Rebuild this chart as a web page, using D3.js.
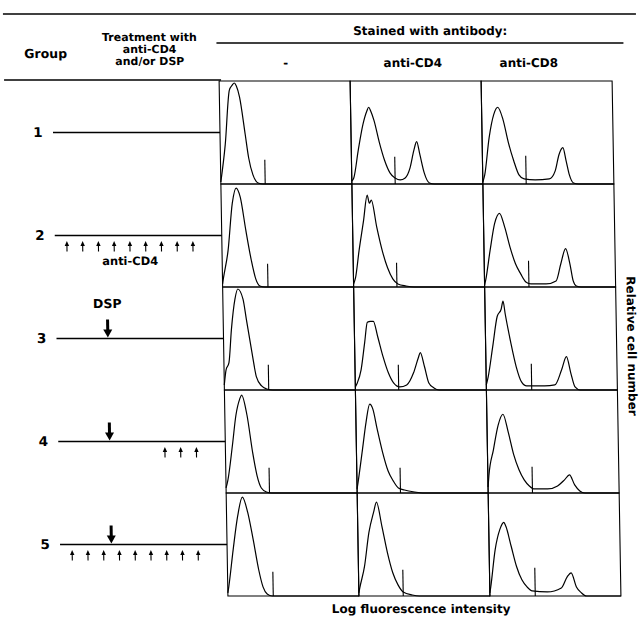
<!DOCTYPE html>
<html>
<head>
<meta charset="utf-8">
<script src="https://cdn.jsdelivr.net/npm/d3@7"></script>
<style>
  html, body { margin: 0; padding: 0; background: #fff; }
  svg { display: block; }
  text { font-family: "DejaVu Sans", "Liberation Sans", Arial, sans-serif; font-weight: bold; fill: #000; }
</style>
</head>
<body>
<svg id="chart" width="642" height="620"></svg>
<script>
// Groups (rows) and staining antibodies (columns)
const groups = ["1", "2", "3", "4", "5"];
const stains = ["-", "anti-CD4", "anti-CD8"];

// Treatment schedule on the timeline: anti-CD4 injections (small arrows) and DSP (large arrow)
const antiCD4Days = [[], [1, 2, 3, 4, 5, 6, 7, 8, 9], [], [7, 8, 9], [1, 2, 3, 4, 5, 6, 7, 8, 9]];
const dspDay = [null, null, 3.5, 3.5, 3.5];

// Flow cytometry histograms: [log fluorescence channel, relative cell number], one list per group
const unstained = [
  [[0,2],[5,39],[10,93],[13,98],[15,100],[17,97],[20,86],[25,49],[28,26],[32,9],[37,1],[42,0],[130,0]],
  [[0,3],[1,9],[6,36],[11,83],[15,98],[19,89],[24,56],[29,26],[33,8],[37,1],[42,0],[130,0]],
  [[0,5],[2,20],[5,27],[8,60],[12,90],[15,100],[20,90],[23,70],[28,37],[32,13],[37,4],[42,1],[48,0],[130,0]],
  [[0,5],[2,13],[7,47],[11,77],[15,93],[17,97],[22,77],[27,40],[31,17],[35,5],[40,1],[45,0],[130,0]],
  [[0,3],[1,9],[6,46],[11,79],[16,98],[21,83],[26,56],[31,26],[35,9],[39,2],[44,0],[130,0]]
];
const cd4Stained = [
  [[0,3],[2,6],[7,34],[12,59],[16,72],[18,76],[20,72],[23,63],[28,41],[33,23],[38,11],[43,6],[48,4],[53,6],[58,16],[62,33],[65,42],[68,29],[72,11],[77,1],[82,0],[130,0]],
  [[0,3],[2,9],[6,36],[11,66],[15,91],[17,83],[19,86],[24,59],[29,36],[34,19],[39,8],[44,3],[52,1],[60,0],[130,0]],
  [[0,3],[2,7],[6,20],[10,47],[13,67],[16,68],[19,68],[23,53],[28,33],[33,17],[38,7],[44,3],[51,5],[58,17],[63,32],[65,37],[69,23],[73,7],[78,2],[83,0],[130,0]],
  [[0,4],[1,10],[6,43],[10,70],[14,88],[17,83],[21,63],[26,40],[31,22],[36,12],[41,5],[47,3],[57,1],[65,0],[130,0]],
  [[0,3],[1,8],[6,29],[11,63],[16,83],[19,93],[24,69],[29,43],[34,23],[39,11],[44,4],[53,1],[60,0],[130,0]]
];
const cd8Stained = [
  [[0,2],[2,9],[7,46],[12,69],[16,76],[21,64],[26,41],[31,23],[36,9],[41,5],[52,4],[66,5],[72,13],[76,29],[80,36],[83,23],[86,9],[90,1],[95,0],[130,0]],
  [[0,2],[1,6],[6,36],[11,63],[16,73],[21,59],[26,39],[31,23],[36,13],[41,5],[46,3],[61,3],[71,6],[76,23],[81,38],[85,23],[88,6],[91,1],[96,0],[130,0]],
  [[0,5],[2,13],[7,43],[12,73],[16,80],[18,88],[20,75],[25,47],[30,23],[35,8],[40,4],[58,4],[68,5],[75,20],[80,33],[84,17],[88,3],[93,0],[130,0]],
  [[0,6],[1,17],[6,43],[11,67],[16,78],[21,60],[26,38],[31,23],[36,13],[41,7],[46,4],[59,4],[69,7],[76,13],[81,18],[86,8],[91,2],[96,0],[130,0]],
  [[0,3],[1,9],[6,46],[11,66],[15,73],[17,69],[22,49],[27,29],[32,16],[37,9],[42,5],[57,4],[71,8],[77,19],[81,23],[86,9],[91,3],[96,0],[130,0]]
];

// Positive-gate marker per panel: [channel, height], rows = groups, columns = stains
const markers = [
  [[44,24],[43,27],[43,28]],
  [[45,23],[43,24],[44,26]],
  [[44,25],[43,25],[45,26]],
  [[43,25],[43,25],[44,26]],
  [[45,24],[44,26],[45,28]]
];

const histograms = [unstained, cd4Stained, cd8Stained];

const svg = d3.select("#chart");
// the printed figure sits at a slight slant; shear about the first row
const shear = Math.tan(0.98 * Math.PI / 180);
const root = svg.append("g")
  .attr("transform", `translate(${-shear * 133},0) skewX(0.98)`);

// ---- header ----
root.append("line").attr("x1", 5).attr("x2", 638).attr("y1", 14).attr("y2", 14)
  .attr("stroke", "#000").attr("stroke-width", 1.6);
root.append("text").attr("x", 432).attr("y", 35).attr("text-anchor", "middle")
  .attr("font-size", 12).text("Stained with antibody:");
root.append("line").attr("x1", 218).attr("x2", 625).attr("y1", 43).attr("y2", 43)
  .attr("stroke", "#000").attr("stroke-width", 1.5);
root.append("text").attr("x", 47).attr("y", 58).attr("text-anchor", "middle")
  .attr("font-size", 12.5).text("Group");
[["Treatment with", 41], ["anti-CD4", 53], ["and/or DSP", 65]].forEach(([t, y]) => {
  root.append("text").attr("x", 151).attr("y", y).attr("text-anchor", "middle")
    .attr("font-size", 11).text(t);
});
root.append("line").attr("x1", 5).attr("x2", 222).attr("y1", 80).attr("y2", 80)
  .attr("stroke", "#000").attr("stroke-width", 1.6);

// ---- panel grid ----
const col = d3.scaleBand().domain(stains).range([220, 613]);
const row = d3.scaleBand().domain(groups).range([81, 596]);
const colLabelX = {"-": 287, "anti-CD4": 414, "anti-CD8": 530};

stains.forEach(s => {
  root.append("text").attr("x", colLabelX[s]).attr("y", 67).attr("text-anchor", "middle")
    .attr("font-size", 12).text(s);
});

const x = d3.scaleLinear().domain([0, 130]).range([0, col.bandwidth()]);
const y = d3.scaleLinear().domain([0, 102]).range([row.bandwidth(), 0]);
const line = d3.line().x(d => x(d[0])).y(d => y(d[1])).curve(d3.curveMonotoneX);

groups.forEach((g, gi) => {
  stains.forEach((s, si) => {
    const panel = root.append("g")
      .attr("transform", `translate(${col(s)},${row(g)})`);
    panel.append("rect")
      .attr("width", col.bandwidth()).attr("height", row.bandwidth())
      .attr("fill", "none").attr("stroke", "#000").attr("stroke-width", 1.1);
    panel.append("path").datum(histograms[si][gi])
      .attr("d", line).attr("fill", "none")
      .attr("stroke", "#000").attr("stroke-width", 1.2).attr("stroke-linejoin", "round");
    const [mc, mh] = markers[gi][si];
    panel.append("line")
      .attr("x1", x(mc)).attr("x2", x(mc))
      .attr("y1", y(0)).attr("y2", y(mh))
      .attr("stroke", "#000").attr("stroke-width", 1.1);
  });
});

// ---- treatment timelines ----
const t = d3.scaleLinear().domain([1, 9]).range([65, 191]);
groups.forEach((g, gi) => {
  const cy = row(g) + row.bandwidth() / 2;
  root.append("text").attr("x", 38).attr("y", cy + 5).attr("text-anchor", "middle")
    .attr("font-size", 13.5).text(g);
  root.append("line").attr("x1", 53).attr("x2", col(stains[0])).attr("y1", cy).attr("y2", cy)
    .attr("stroke", "#000").attr("stroke-width", 1.6);

  antiCD4Days[gi].forEach(d => {
    const ax = t(d);
    root.append("line").attr("x1", ax).attr("x2", ax).attr("y1", cy + 9).attr("y2", cy + 16)
      .attr("stroke", "#000").attr("stroke-width", 1.1);
    root.append("path")
      .attr("d", `M${ax - 2.2},${cy + 10.5} L${ax},${cy + 5.5} L${ax + 2.2},${cy + 10.5} Z`)
      .attr("fill", "#000");
  });

  if (dspDay[gi] !== null) {
    const ax = t(dspDay[gi]);
    root.append("line").attr("x1", ax).attr("x2", ax).attr("y1", cy - 19).attr("y2", cy - 7)
      .attr("stroke", "#000").attr("stroke-width", 3);
    root.append("path")
      .attr("d", `M${ax - 4.5},${cy - 9} L${ax},${cy - 1} L${ax + 4.5},${cy - 9} Z`)
      .attr("fill", "#000");
  }
});

// labels attached to the timelines
root.append("text").attr("x", 128).attr("y", row("2") + row.bandwidth() / 2 + 30)
  .attr("text-anchor", "middle").attr("font-size", 11.5).text("anti-CD4");
root.append("text").attr("x", t(dspDay[2])).attr("y", row("3") + row.bandwidth() / 2 - 30)
  .attr("text-anchor", "middle").attr("font-size", 12.5).text("DSP");

// ---- axis titles ----
root.append("text").attr("transform", "translate(624,346) rotate(90)")
  .attr("text-anchor", "middle").attr("font-size", 12)
  .text("Relative cell number");
root.append("text").attr("x", 413).attr("y", 613).attr("text-anchor", "middle")
  .attr("font-size", 12).text("Log fluorescence intensity");
</script>
</body>
</html>
